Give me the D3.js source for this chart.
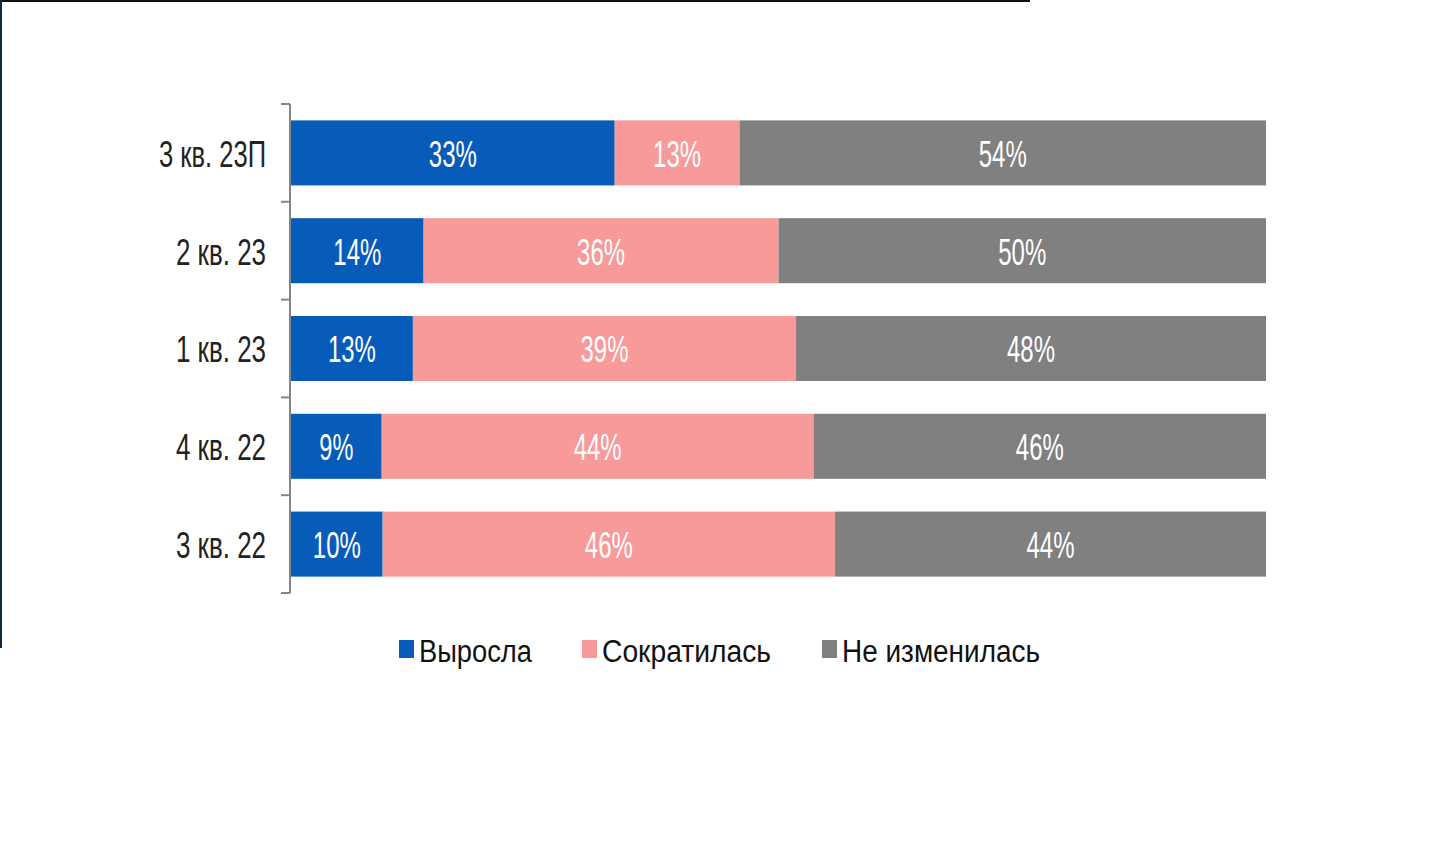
<!DOCTYPE html>
<html><head><meta charset="utf-8">
<script src="https://cdn.jsdelivr.net/npm/d3@7"></script>
<style>html,body{margin:0;padding:0;background:#fff;}svg{display:block;}</style>
</head><body>
<svg id="c" width="1451" height="864"></svg>
<script>
const categories = ["3 кв. 23П", "2 кв. 23", "1 кв. 23", "4 кв. 22", "3 кв. 22"];
const seriesNames = ["Выросла", "Сократилась", "Не изменилась"];
const grew   = [33.2, 13.6, 12.5, 9.3, 9.4];
const shrank = [12.8, 36.4, 39.3, 44.3, 46.4];
const same   = [54.0, 50.0, 48.2, 46.4, 44.2];
const grewLabels   = ["33%", "14%", "13%", "9%", "10%"];
const shrankLabels = ["13%", "36%", "39%", "44%", "46%"];
const sameLabels   = ["54%", "50%", "48%", "46%", "44%"];
const colors = ["#075cba", "#f89a9a", "#808080"];

const svg = d3.select("#c");
const font = "'Liberation Sans Narrow','Arial Narrow','Liberation Sans',Arial,sans-serif";

// frame lines
svg.append("rect").attr("x",0).attr("y",0).attr("width",1030).attr("height",2).attr("fill","#0a0f1a");
svg.append("rect").attr("x",0).attr("y",0).attr("width",2).attr("height",648).attr("fill","#0b2844");

const rows = categories.map((c,i)=>({cat:c, vals:[grew[i],shrank[i],same[i]], labels:[grewLabels[i],shrankLabels[i],sameLabels[i]]}));

const x = d3.scaleLinear().domain([0,100]).range([291,1266]);
const pad = 0.335;
const y = d3.scaleBand().domain(categories).range([104,593]).paddingInner(pad).paddingOuter(pad/2);

const stack = d3.stack().keys([0,1,2]).value((d,k)=>d.vals[k]);
const series = stack(rows);

const g = svg.append("g");
series.forEach((s,k)=>{
  g.selectAll(null).data(s).enter().append("rect")
    .attr("x",d=>x(d[0])).attr("width",d=>x(d[1])-x(d[0]))
    .attr("y",d=>y(d.data.cat)).attr("height",y.bandwidth())
    .attr("fill",colors[k]);
  g.selectAll(null).data(s).enter().append("text")
    .attr("x",d=>(x(d[0])+x(d[1]))/2)
    .attr("y",d=>y(d.data.cat)+y.bandwidth()/2+1)
    .attr("dy","0.36em")
    .attr("text-anchor","middle")
    .attr("fill","#fff")
    .attr("font-family",font).attr("font-size",36)
    .attr("textLength",d=>{const t=d.data.labels[k]; return t.length===2?34:48;})
    .attr("lengthAdjust","spacingAndGlyphs")
    .text(d=>d.data.labels[k]);
});

// axis
const step = y.step();
const ax = svg.append("g").attr("stroke","#858585").attr("stroke-width",2);
ax.append("line").attr("x1",290).attr("x2",290).attr("y1",104).attr("y2",593);
const bounds = categories.map(c=>y(c)-step*pad/2).concat([593]);
ax.selectAll(null).data(bounds).enter().append("line")
  .attr("x1",281).attr("x2",290).attr("y1",d=>d).attr("y2",d=>d);

// category labels
svg.selectAll(null).data(categories).enter().append("text")
  .attr("x",266).attr("y",d=>y(d)+y.bandwidth()/2+1).attr("dy","0.36em")
  .attr("text-anchor","end").attr("fill","#222")
  .attr("font-family",font).attr("font-size",36)
  .attr("textLength",d=>d.length>8?107:90).attr("lengthAdjust","spacingAndGlyphs")
  .text(d=>d);

// legend
const legendX = [399, 582, 822];
const legendW = [113, 169, 198];
const lg = svg.append("g");
seriesNames.forEach((n,i)=>{
  lg.append("rect").attr("x",legendX[i]).attr("y",640).attr("width",15).attr("height",18).attr("fill",colors[i]);
  lg.append("text").attr("x",legendX[i]+20).attr("y",662)
    .attr("font-family",font).attr("font-size",31).attr("fill","#111")
    .attr("textLength",legendW[i]).attr("lengthAdjust","spacingAndGlyphs")
    .text(n);
});
</script>
</body></html>
